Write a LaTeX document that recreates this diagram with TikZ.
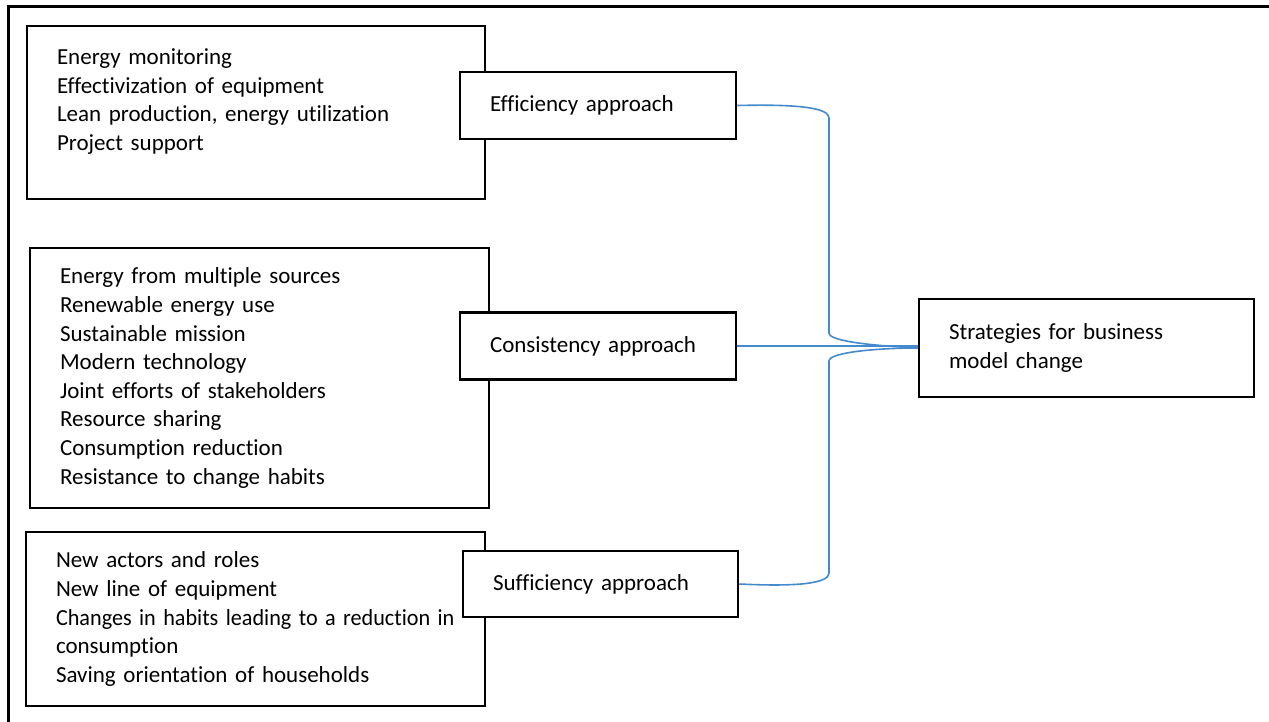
\documentclass[tikz,border=0pt]{standalone}
\usepackage{fontspec}
\setmainfont{Carlito}[Ligatures={NoCommon}]
\usepackage{tikz}
\usetikzlibrary{positioning}
\definecolor{linkblue}{RGB}{68,138,206}
\tikzset{box/.style = {draw, fill=white, line width=2.5pt, rectangle, inner xsep=30pt, inner ysep=0pt, align=left,
  font=\fontsize{23}{28.6}\selectfont}}
\tikzset{link/.style = {draw=linkblue, line width=1.6pt}}

\begin{document}
\begin{tikzpicture}[x=1pt,y=-1pt]
        \useasboundingbox (0,0) rectangle (1269,722);
        \draw [line width=3pt] (8,722) -- (8,7) -- (1269,7);
        % lists of measures
        \node [box, text width=398pt, minimum height=173pt, text depth=112pt] (lst1) at (256,112.5)
            {Energy monitoring\\Effectivization of equipment\\Lean production, energy utilization\\Project support};
        \node [box, text width=399pt, minimum height=260pt] (lst2) at (259.5,378)
            {Energy from multiple sources\\Renewable energy use\\Sustainable mission\\Modern technology\\Joint efforts of stakeholders\\Resource sharing\\Consumption reduction\\Resistance to change habits};
        \node [box, text width=399pt, minimum height=174pt] (lst3) at (255.5,619)
            {New actors and roles\\New line of equipment\\\scalebox{0.965}[1]{Changes in habits leading to a reduction in}\\consumption\\Saving orientation of households};
        % approaches
        \node [box, text width=216pt, minimum height=67pt] (eff) at (598,105.5) {Efficiency approach};
        \node [box, text width=216pt, minimum height=67pt] (con) at (598,346) {Consistency approach};
        \node [box, text width=215pt, minimum height=66pt] (suf) at (600.5,584) {Sufficiency approach};
        \node [box, text width=275pt, minimum height=98pt] (strat) at (1086.5,348) {Strategies for business\\model change};
        % brace
        \draw [link] (eff.east) .. controls (800,104) and (829,108) .. (829,118) -- (829,333)
            .. controls (829,342) and (880,346) .. (strat.west);
        \draw [link] (con.east) -- (con.east -| strat.west);
        \draw [link] (suf.east) .. controls (800,587) and (829,583) .. (829,573) -- (829,361)
            .. controls (829,352) and (880,348) .. (strat.west);
    \end{tikzpicture}
\end{document}
